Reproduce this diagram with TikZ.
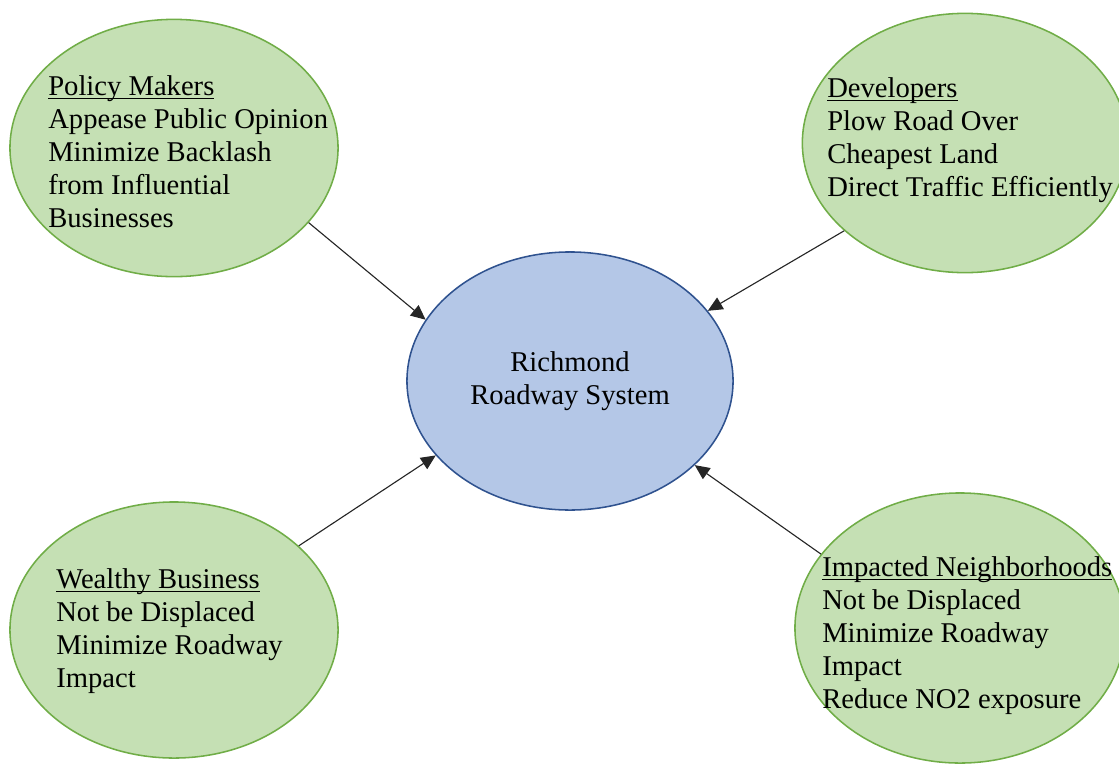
\documentclass[tikz,border=0pt]{standalone}
\usepackage{fontspec}
\setmainfont{Liberation Serif}
\usetikzlibrary{shapes.geometric}
\usetikzlibrary{arrows.meta}

\definecolor{leaf}{HTML}{C5E0B4}
\definecolor{leafline}{HTML}{70AD47}
\definecolor{sky}{HTML}{B4C7E7}
\definecolor{skyline}{HTML}{2F528F}

\newsavebox{\headbox}
\newcommand{\headline}[1]{\sbox{\headbox}{#1}\rlap{\rule[-2.4pt]{\wd\headbox}{0.55pt}}\usebox{\headbox}}

\tikzset{
	party/.style={ellipse,draw=leafline,fill=leaf,line width=1.1pt,inner sep=0pt},
	goals/.style={anchor=north west,align=left,inner sep=0pt,font=\fontsize{20.35}{23.47}\selectfont},
	push/.style={-{Triangle[length=10.5pt,width=9.5pt]},line width=0.8pt,black!85}
}

\begin{document}
\begin{tikzpicture}[x=0.025cm,y=-0.025cm]
	\useasboundingbox (0,0) rectangle (1119,764);

	% stakeholders
	\node[party,minimum width=8.2cm,minimum height=6.43cm](policy) at (174,148) {};
	\node[party,minimum width=8.13cm,minimum height=6.48cm](devel) at (965,143) {};
	\node[party,minimum width=8.2cm,minimum height=6.4cm](wealthy) at (174,630) {};
	\node[party,minimum width=8.25cm,minimum height=6.75cm](hoods) at (960,628) {};

	% the system
	\node[ellipse,draw=skyline,fill=sky,line width=1.1pt,minimum width=8.15cm,minimum height=6.45cm,
		align=center,font=\fontsize{20.35}{23.47}\selectfont](road) at (570,381) {Richmond\\Roadway System};

	\node[goals](policytxt) at (48,75) {\headline{Policy Makers}\\Appease Public Opinion\\Minimize Backlash\\from Influential\\Businesses};
	\node[goals](develtxt) at (827,77) {\headline{Developers}\\Plow Road Over\\Cheapest Land\\Direct Traffic Efficiently};
	\node[goals](wealthytxt) at (56,568) {\headline{Wealthy Business}\\Not be Displaced\\Minimize Roadway\\Impact};
	\node[goals](hoodstxt) at (822,556) {\headline{Impacted Neighborhoods}\\Not be Displaced\\Minimize Roadway\\Impact\\Reduce NO2 exposure};

	\draw[push] (policy.-29) -- (road.157);
	\draw[push] (devel.-144) -- (road.27);
	\draw[push] (wealthy.34) -- (road.-151);
	\draw[push] (hoods.152) -- (road.-34.5);
\end{tikzpicture}
\end{document}
